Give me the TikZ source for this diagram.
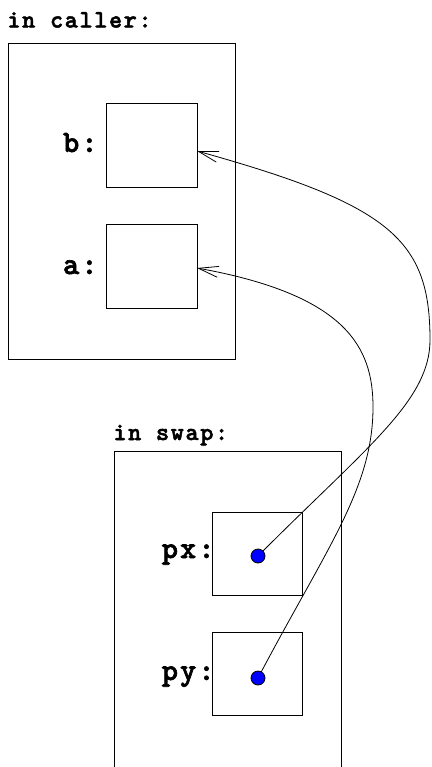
\documentclass[tikz,border=0pt]{standalone}
\usepackage{fontspec}
\newfontfamily\codefont{lmmonolt10-bold}[Extension=.otf,LetterSpace=6.5,FakeBold=2]
\usetikzlibrary{arrows.meta,calc}
\begin{document}
\begin{tikzpicture}[x=1pt,y=-1pt,line width=0.8pt,
  cell/.style={draw,minimum width=91pt,minimum height=84pt,inner sep=0pt,outer sep=0pt},
  frame/.style={draw,inner sep=0pt,outer sep=0pt},
  title/.style={font=\codefont\fontsize{25}{28}\selectfont,inner sep=0pt},
  lbl/.style={font=\codefont\fontsize{31}{34}\selectfont,inner sep=0pt},
  dot/.style={circle,draw,fill=blue,minimum size=14pt,inner sep=0pt,outer sep=0pt},
  ptr/.style={-{Straight Barb[length=20pt,width=11pt]},line width=0.8pt}]
\clip (0,0) rectangle (431,767);
\useasboundingbox (0,0) rectangle (431,767);
% frames
\node[frame,minimum width=227pt,minimum height=316pt] (caller) at (121.5,201) {};
\node[frame,minimum width=227pt,minimum height=340pt] (swap) at (227.5,621) {};
\node[title,anchor=base west] (tcaller) at (7,27.5) {in caller:};
\node[title,anchor=base west] (tswap) at (113,440) {in swap:};
% cells
\node[cell] (b) at (151.5,145) {};
\node[cell] (a) at (151.5,266) {};
\node[cell,minimum width=90pt,minimum height=83pt] (px) at (257,553.5) {};
\node[cell,minimum width=90pt,minimum height=83pt] (py) at (257,673.5) {};
% labels
\node[lbl,anchor=base east] (lb) at ($(b.west)+(-8,7)$) {b:};
\node[lbl,anchor=base east] (la) at ($(a.west)+(-8,8)$) {a:};
\node[lbl,anchor=base east] (lpx) at ($(px.west)+(3,4.5)$) {px:};
\node[lbl,anchor=base east] (lpy) at ($(py.west)+(3,6.5)$) {py:};
% dots
\node[dot] (pxdot) at (258,556) {};
\node[dot] (pydot) at (258,678) {};
\coordinate (m1) at (430,340);
\coordinate (m2) at (373,407);
% pointers
\draw[ptr] (pxdot) .. controls (368,446) and (430,400) .. (m1)
  .. controls (430,240) and (391,205) .. ([yshift=-6pt]b.east);
\draw[ptr] (pydot) .. controls (328,546) and (373,487) .. (m2)
  .. controls (373,347) and (346,295) .. ([yshift=-2pt]a.east);
\end{tikzpicture}
\end{document}
